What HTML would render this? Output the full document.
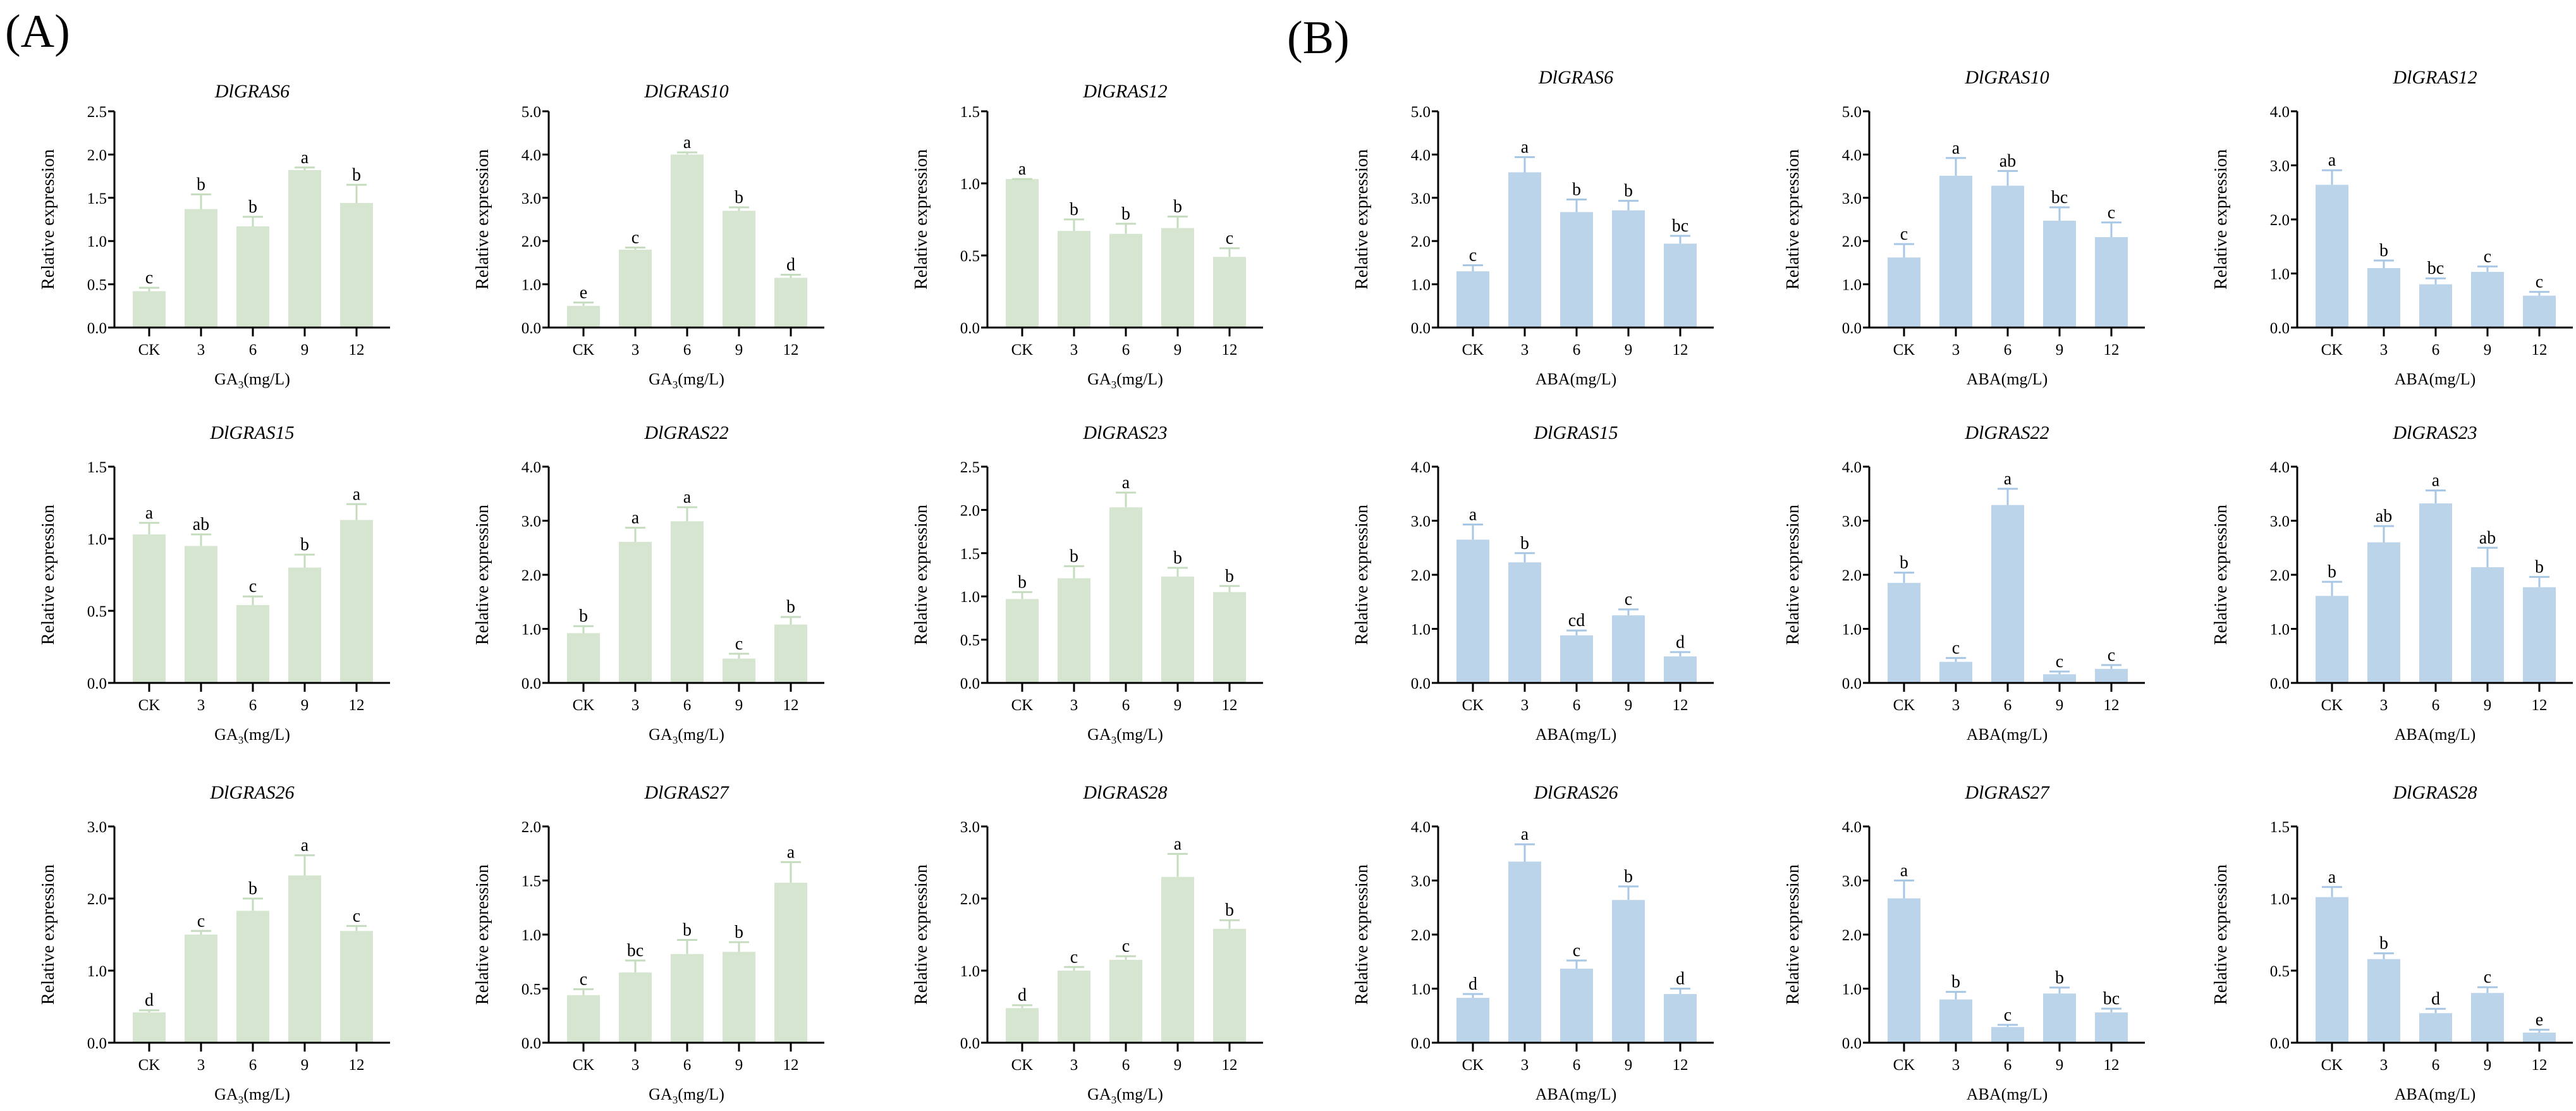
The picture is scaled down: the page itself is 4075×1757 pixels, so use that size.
<!DOCTYPE html>
<html><head><meta charset="utf-8"><style>
html,body{margin:0;padding:0;background:#fff;}
svg, svg text{font-family:"Liberation Serif","Times New Roman",serif;}
</style></head><body>
<svg id="fig" width="4075" height="1752" viewBox="0 0 4075 1752" xmlns="http://www.w3.org/2000/svg" font-family="Liberation Serif, serif">
<rect width="4075" height="1752" fill="#fff"/>
<text x="8" y="74" font-size="74" font-family="Liberation Serif, serif">(A)</text>
<text x="2036" y="84" font-size="74" font-family="Liberation Serif, serif">(B)</text>
<g id="charts" font-family="Liberation Serif, serif"></g>
</svg>
<script>
const categories = ["CK","3","6","9","12"];

const gaTitles = ["DlGRAS6","DlGRAS10","DlGRAS12","DlGRAS15","DlGRAS22","DlGRAS23","DlGRAS26","DlGRAS27","DlGRAS28"];
const gaMax = [2.5,5.0,1.5,1.5,4.0,2.5,3.0,2.0,3.0];
const gaStep = [0.5,1.0,0.5,0.5,1.0,0.5,1.0,0.5,1.0];
const gaValues = [
 [0.42,1.37,1.17,1.82,1.44],
 [0.50,1.80,4.00,2.70,1.15],
 [1.03,0.67,0.65,0.69,0.49],
 [1.03,0.95,0.54,0.80,1.13],
 [0.92,2.61,2.99,0.45,1.08],
 [0.97,1.21,2.03,1.23,1.05],
 [0.42,1.50,1.83,2.32,1.55],
 [0.44,0.65,0.82,0.84,1.48],
 [0.48,1.00,1.15,2.30,1.58]];
const gaErrTop = [
 [0.46,1.54,1.28,1.85,1.65],
 [0.58,1.85,4.05,2.78,1.22],
 [1.03,0.75,0.72,0.77,0.55],
 [1.11,1.03,0.60,0.89,1.24],
 [1.05,2.87,3.25,0.54,1.22],
 [1.05,1.35,2.20,1.33,1.12],
 [0.45,1.55,2.00,2.60,1.62],
 [0.495,0.76,0.95,0.93,1.67],
 [0.52,1.05,1.20,2.62,1.70]];
const gaLetters = [
 ["c","b","b","a","b"],["e","c","a","b","d"],["a","b","b","b","c"],
 ["a","ab","c","b","a"],["b","a","a","c","b"],["b","b","a","b","b"],
 ["d","c","b","a","c"],["c","bc","b","b","a"],["d","c","c","a","b"]];

const abaTitles = ["DlGRAS6","DlGRAS10","DlGRAS12","DlGRAS15","DlGRAS22","DlGRAS23","DlGRAS26","DlGRAS27","DlGRAS28"];
const abaMax = [5.0,5.0,4.0,4.0,4.0,4.0,4.0,4.0,1.5];
const abaStep = [1.0,1.0,1.0,1.0,1.0,1.0,1.0,1.0,0.5];
const abaValues = [
 [1.30,3.59,2.67,2.71,1.94],
 [1.62,3.51,3.28,2.47,2.09],
 [2.64,1.10,0.80,1.03,0.59],
 [2.65,2.23,0.88,1.25,0.49],
 [1.85,0.39,3.29,0.16,0.26],
 [1.61,2.60,3.32,2.14,1.77],
 [0.83,3.35,1.37,2.64,0.90],
 [2.67,0.80,0.29,0.91,0.56],
 [1.01,0.58,0.205,0.345,0.07]];
const abaErrTop = [
 [1.44,3.94,2.96,2.93,2.12],
 [1.93,3.92,3.62,2.78,2.43],
 [2.91,1.24,0.91,1.13,0.66],
 [2.93,2.40,0.97,1.36,0.57],
 [2.04,0.46,3.59,0.21,0.33],
 [1.87,2.90,3.56,2.50,1.96],
 [0.90,3.67,1.52,2.89,1.00],
 [3.00,0.94,0.33,1.02,0.63],
 [1.08,0.62,0.235,0.385,0.09]];
const abaLetters = [
 ["c","a","b","b","bc"],["c","a","ab","bc","c"],["a","b","bc","c","c"],
 ["a","b","cd","c","d"],["b","c","a","c","c"],["b","ab","a","ab","b"],
 ["d","a","c","b","d"],["a","b","c","b","bc"],["a","b","d","c","e"]];

const NS = "http://www.w3.org/2000/svg";
const root = document.getElementById("charts");
const FONT = "Liberation Serif, serif";
function mk(tag, attrs, parent){
  const e = document.createElementNS(NS, tag);
  for (const k in attrs) e.setAttribute(k, attrs[k]);
  if (tag === "text") e.setAttribute("font-family", FONT);
  parent.appendChild(e);
  return e;
}
const rowTops = [176, 738, 1307];
const H = 342, W = 436;

function drawPanel(ax, top, title, maxV, step, vals, errs, lets, barColor, errColor, xTitle, titleY, yTitleOff, id){
  const g = mk("g", {}, root);
  
  
  const bottom = top + H;
  const yS = v => bottom - v / maxV * H;
  const xS = i => ax + 55 + i * 82;
  const t = mk("text", {x: ax + 218, y: titleY, "font-size": 30, "font-style": "italic", "font-weight": "normal", "text-anchor": "middle"}, g);
  t.textContent = title;
  
  
  for (let i = 0; i < categories.length; i++){
    const cx = xS(i);
    const b = mk("rect", {x: cx - 26, y: yS(vals[i]), width: 52, height: bottom - yS(vals[i]), fill: barColor}, g);
    
    
    const ey = yS(errs[i]);
    const el = mk("path", {d: "M" + cx + " " + yS(vals[i]) + "V" + ey + "M" + (cx - 16) + " " + ey + "H" + (cx + 16), stroke: errColor, "stroke-width": 3, fill: "none"}, g);
    
    
    const lt = mk("text", {x: cx, y: ey - 7, "font-size": 28, "text-anchor": "middle"}, g);
    lt.textContent = lets[i];
    
    
    const tk = mk("line", {x1: cx, x2: cx, y1: bottom, y2: bottom + 14, stroke: "#000", "stroke-width": 3}, g);
    
    
    const tl = mk("text", {x: cx, y: bottom + 43, "font-size": 25, "text-anchor": "middle"}, g);
    tl.textContent = categories[i];
    
    
  }
  const n = Math.round(maxV / step);
  for (let k = 0; k <= n; k++){
    const v = k * step, y = yS(v);
    const tk = mk("line", {x1: ax - 10, x2: ax, y1: y, y2: y, stroke: "#000", "stroke-width": 3}, g);
    
    
    const tl = mk("text", {x: ax - 12, y: y + 9, "font-size": 25, "text-anchor": "end"}, g);
    tl.textContent = v.toFixed(1);
    
    
  }
  const axes = mk("path", {d: "M" + ax + " " + top + "V" + bottom + "H" + (ax + W), stroke: "#000", "stroke-width": 3, fill: "none"}, g);
  
  
  const yt = mk("text", {x: 0, y: 0, "font-size": 28, "text-anchor": "middle", transform: "translate(" + (ax - yTitleOff) + "," + (top + 171) + ") rotate(-90)", textLength: 222, lengthAdjust: "spacingAndGlyphs"}, g);
  yt.textContent = "Relative expression";
  
  
  const xt = mk("text", {x: ax + 218, y: bottom + 90, "font-size": 26, "text-anchor": "middle"}, g);
  if (xTitle === "GA"){
    xt.innerHTML = 'GA<tspan font-size="17" dy="6">3</tspan><tspan dy="-6">(mg/L)</tspan>';
  } else {
    xt.textContent = "ABA(mg/L)";
  }
  
  
}

const gaCols = [181, 868, 1562];
const abaCols = [2275, 2957, 3634];
for (let p = 0; p < 9; p++){
  const r = Math.floor(p / 3), c = p % 3;
  const top = rowTops[r];
  drawPanel(gaCols[c], top, gaTitles[p], gaMax[p], gaStep[p], gaValues[p], gaErrTop[p], gaLetters[p],
    "#d5e5cf", "#c6dcbf", "GA", r === 0 ? top - 22 : top - 44, 96, "ga-" + gaTitles[p].toLowerCase());
  drawPanel(abaCols[c], top, abaTitles[p], abaMax[p], abaStep[p], abaValues[p], abaErrTop[p], abaLetters[p],
    "#bcd4ea", "#a8c7e4", "ABA", top - 44, 112, "aba-" + abaTitles[p].toLowerCase());
}
</script>
</body></html>
